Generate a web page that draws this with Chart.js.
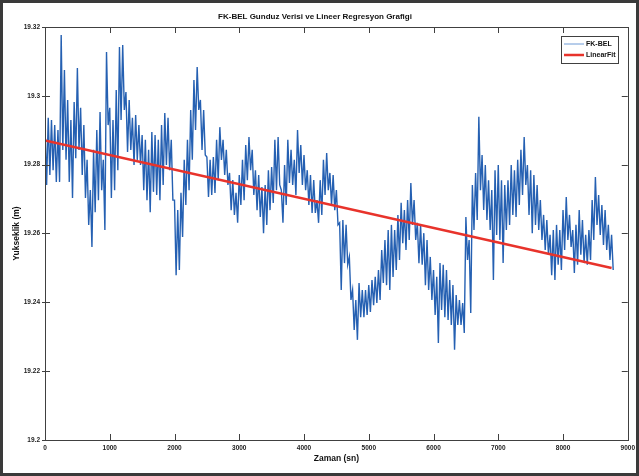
<!DOCTYPE html>
<html>
<head>
<meta charset="utf-8">
<script src="https://cdn.jsdelivr.net/npm/chart.js@4"></script>
<style>
  html, body { margin: 0; padding: 0; background: #fff; }
  canvas { display: block; }
</style>
</head>
<body>
<canvas id="grafik" width="639" height="476"></canvas>
<script>
// FK-BEL gunduz verisi: her 50 sn'lik aralikta okunan ust ve alt degerler (m)
const adimSn = 50;
const ustDeger = [
  19.2915, 19.2936, 19.2930, 19.2915, 19.2901, 19.3177, 19.3075, 19.2988, 19.2930, 19.2982,
  19.3081, 19.2965, 19.2915, 19.2814, 19.2726, 19.2843, 19.2901, 19.2953, 19.2814, 19.3127,
  19.2965, 19.2930, 19.3017, 19.3142, 19.3148, 19.3011, 19.2988, 19.2936, 19.2944, 19.2915,
  19.2886, 19.2872, 19.2843, 19.2895, 19.2886, 19.2872, 19.2915, 19.2950, 19.2936, 19.2872,
  19.2697, 19.2668, 19.2718, 19.2814, 19.2872, 19.2959, 19.3046, 19.3084, 19.2988, 19.2959,
  19.2822, 19.2814, 19.2822, 19.2872, 19.2909, 19.2872, 19.2843, 19.2776, 19.2755, 19.2718,
  19.2770, 19.2814, 19.2857, 19.2880, 19.2843, 19.2784, 19.2770, 19.2735, 19.2741, 19.2784,
  19.2793, 19.2872, 19.2880, 19.2726, 19.2799, 19.2872, 19.2843, 19.2814, 19.2901, 19.2857,
  19.2828, 19.2784, 19.2770, 19.2755, 19.2697, 19.2755, 19.2814, 19.2834, 19.2776, 19.2770,
  19.2726, 19.2631, 19.2639, 19.2625, 19.2532, 19.2436, 19.2407, 19.2456, 19.2436, 19.2436,
  19.2450, 19.2465, 19.2474, 19.2494, 19.2552, 19.2581, 19.2610, 19.2625, 19.2610, 19.2654,
  19.2689, 19.2668, 19.2697, 19.2747, 19.2697, 19.2631, 19.2625, 19.2601, 19.2581, 19.2532,
  19.2494, 19.2474, 19.2514, 19.2509, 19.2494, 19.2465, 19.2450, 19.2421, 19.2407, 19.2398,
  19.2648, 19.2581, 19.2741, 19.2776, 19.2939, 19.2828, 19.2799, 19.2755, 19.2726, 19.2784,
  19.2799, 19.2755, 19.2741, 19.2755, 19.2799, 19.2784, 19.2814, 19.2843, 19.2880, 19.2799,
  19.2784, 19.2770, 19.2741, 19.2697, 19.2654, 19.2639, 19.2596, 19.2610, 19.2625, 19.2610,
  19.2668, 19.2706, 19.2654, 19.2610, 19.2625, 19.2668, 19.2639, 19.2596, 19.2610, 19.2697,
  19.2764, 19.2712, 19.2683, 19.2668, 19.2625, 19.2596
];
const altDeger = [
  19.2741, 19.2770, 19.2784, 19.2750, 19.2750, 19.2843, 19.2814, 19.2750, 19.2703, 19.2819,
  19.2843, 19.2770, 19.2703, 19.2625, 19.2561, 19.2662, 19.2697, 19.2726, 19.2610, 19.2915,
  19.2703, 19.2726, 19.2784, 19.2930, 19.2959, 19.2837, 19.2843, 19.2799, 19.2814, 19.2799,
  19.2726, 19.2697, 19.2662, 19.2721, 19.2712, 19.2697, 19.2741, 19.2799, 19.2784, 19.2697,
  19.2479, 19.2494, 19.2590, 19.2683, 19.2726, 19.2814, 19.2901, 19.2959, 19.2843, 19.2828,
  19.2706, 19.2712, 19.2718, 19.2755, 19.2814, 19.2770, 19.2741, 19.2668, 19.2654, 19.2631,
  19.2683, 19.2697, 19.2755, 19.2784, 19.2712, 19.2668, 19.2648, 19.2601, 19.2625, 19.2668,
  19.2689, 19.2726, 19.2741, 19.2631, 19.2683, 19.2747, 19.2741, 19.2712, 19.2776, 19.2741,
  19.2726, 19.2683, 19.2660, 19.2660, 19.2631, 19.2654, 19.2712, 19.2726, 19.2683, 19.2668,
  19.2625, 19.2436, 19.2514, 19.2509, 19.2407, 19.2320, 19.2291, 19.2357, 19.2357, 19.2363,
  19.2372, 19.2392, 19.2398, 19.2407, 19.2456, 19.2450, 19.2436, 19.2474, 19.2494, 19.2523,
  19.2572, 19.2552, 19.2581, 19.2625, 19.2581, 19.2514, 19.2509, 19.2450, 19.2436, 19.2407,
  19.2363, 19.2282, 19.2378, 19.2357, 19.2349, 19.2334, 19.2262, 19.2334, 19.2334, 19.2311,
  19.2523, 19.2369, 19.2610, 19.2639, 19.2726, 19.2668, 19.2639, 19.2610, 19.2465, 19.2596,
  19.2581, 19.2514, 19.2610, 19.2625, 19.2654, 19.2648, 19.2683, 19.2712, 19.2741, 19.2654,
  19.2601, 19.2625, 19.2610, 19.2581, 19.2552, 19.2538, 19.2479, 19.2465, 19.2509, 19.2494,
  19.2552, 19.2581, 19.2561, 19.2485, 19.2509, 19.2538, 19.2514, 19.2509, 19.2523, 19.2581,
  19.2625, 19.2596, 19.2567, 19.2552, 19.2523, 19.2494
];

// lineer regresyon dogrusu: baslangic ve bitis
const fitZaman = [0, 8750];
const fitDeger = [19.287, 19.250];

const xTikler = [0, 1000, 2000, 3000, 4000, 5000, 6000, 7000, 8000, 9000];
const yTikler = [19.2, 19.22, 19.24, 19.26, 19.28, 19.3, 19.32];

const etiketler = ['FK-BEL', 'LinearFit'];

// ust/alt degerleri sirayla dizerek gurultulu sinyali olustur
let olcum = [];
for (let i = 0; i < ustDeger.length; i++) {
  olcum.push({ x: i * adimSn, y: ustDeger[i] });
  olcum.push({ x: i * adimSn + adimSn / 2, y: altDeger[i] });
}
let fit = fitZaman.map((t, i) => ({ x: t, y: fitDeger[i] }));

const yazi = '"Liberation Sans Narrow", "Liberation Sans", Arial, sans-serif';

// cerceve, ice bakan tikler ve lejant
const matlabStil = {
  id: 'matlabStil',
  beforeDraw(chart) {
    const c = chart.ctx;
    c.save();
    c.fillStyle = '#fff';
    c.fillRect(0, 0, chart.width, chart.height);
    c.strokeStyle = '#3a3a3a';
    c.lineWidth = 3;
    c.strokeRect(1.5, 1.5, chart.width - 3, chart.height - 3);
    c.restore();
  },
  afterDraw(chart) {
    const c = chart.ctx;
    const a = chart.chartArea;
    const xs = chart.scales.x, ys = chart.scales.y;
    c.save();
    c.strokeStyle = '#404040';
    c.lineWidth = 1;
    c.strokeRect(Math.round(a.left) + 0.5, Math.round(a.top) + 0.5,
                 Math.round(a.right - a.left), Math.round(a.bottom - a.top));
    c.beginPath();
    xTikler.forEach(v => {
      const px = Math.round(xs.getPixelForValue(v)) + 0.5;
      c.moveTo(px, a.bottom); c.lineTo(px, a.bottom - 6);
      c.moveTo(px, a.top); c.lineTo(px, a.top + 6);
    });
    yTikler.forEach(v => {
      const py = Math.round(ys.getPixelForValue(v)) + 0.5;
      c.moveTo(a.left - 3, py); c.lineTo(a.left + 5, py);
      c.moveTo(a.right, py); c.lineTo(a.right - 6, py);
    });
    c.stroke();

    // lejant kutusu
    const lx = 561, ly = 36, lw = 57, lh = 27;
    c.fillStyle = '#fff';
    c.fillRect(lx, ly, lw, lh);
    c.strokeStyle = '#404040';
    c.strokeRect(lx + 0.5, ly + 0.5, lw, lh);
    chart.data.datasets.forEach((ds, i) => {
      const yy = ly + 8 + i * 11;
      c.strokeStyle = i === 0 ? '#6f9bd6' : ds.borderColor;
      c.lineWidth = i === 0 ? 1 : ds.borderWidth;
      c.beginPath();
      c.moveTo(lx + 3, yy); c.lineTo(lx + 23, yy);
      c.stroke();
      c.fillStyle = '#111';
      c.font = 'bold 7px ' + yazi;
      c.textBaseline = 'middle';
      c.fillText(ds.label, lx + 25, yy);
    });
    c.restore();
  }
};

new Chart(document.getElementById('grafik'), {
  type: 'line',
  data: {
    datasets: [
      { label: etiketler[0], data: olcum, borderColor: '#2560b2', borderWidth: 1.4,
        pointRadius: 0, tension: 0, order: 2 },
      { label: etiketler[1], data: fit, borderColor: '#e8332b', borderWidth: 2.5,
        pointRadius: 0, tension: 0, order: 1 }
    ]
  },
  options: {
    responsive: false,
    animation: false,
    layout: { padding: { left: 0, right: 9, top: 0, bottom: 0 } },
    plugins: {
      legend: { display: false },
      tooltip: { enabled: false },
      title: {
        display: true,
        text: 'FK-BEL Gunduz Verisi ve Lineer Regresyon Grafigi',
        color: '#111',
        font: { family: yazi, size: 8, weight: 'bold' },
        padding: { top: 12, bottom: 5.4 }
      }
    },
    scales: {
      x: {
        type: 'linear',
        min: 0, max: 9000,
        afterBuildTicks: s => { s.ticks = xTikler.map(v => ({ value: v })); },
        afterFit: s => { s.height = 36; },
        grid: { display: false, drawTicks: false },
        border: { display: false },
        ticks: {
          color: '#222', padding: 4, maxRotation: 0,
          font: { family: yazi, size: 6.5, weight: 'bold' },
          callback: v => String(v)
        },
        title: {
          display: true, text: 'Zaman (sn)', color: '#111',
          font: { family: yazi, size: 8.5, weight: 'bold' },
          padding: { top: 0, bottom: 12 }
        }
      },
      y: {
        min: 19.2, max: 19.32,
        afterBuildTicks: s => { s.ticks = yTikler.map(v => ({ value: v })); },
        afterFit: s => { s.width = 45; },
        grid: { display: false, drawTicks: false },
        border: { display: false },
        ticks: {
          color: '#222', padding: 5,
          font: { family: yazi, size: 6.5, weight: 'bold' },
          callback: v => String(Number(v.toFixed(2)))
        },
        title: {
          display: true, text: 'Yukseklik (m)', color: '#111',
          font: { family: yazi, size: 8.5, weight: 'bold' },
          padding: { top: 12, bottom: 0 }
        }
      }
    }
  },
  plugins: [matlabStil]
});
</script>
</body>
</html>
